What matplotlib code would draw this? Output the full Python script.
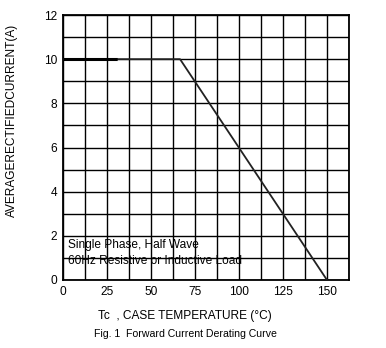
import matplotlib.pyplot as plt
import numpy as np

plt.rcParams['font.family'] = ['Liberation Sans', 'DejaVu Sans']
plt.rcParams['lines.scale_dashes'] = False

# derating curve: flat at rated current, then linear down to zero
temp = [0, 66.5, 150]
current = [10, 10, 0]

x_ticks = [0, 25, 50, 75, 100, 125, 150]
y_ticks = [0, 2, 4, 6, 8, 10, 12]

W, H = 386, 348
fig = plt.figure(figsize=(W / 100, H / 100), dpi=100)
ax = fig.add_axes([63 / W, (H - 280) / H, 286 / W, 265 / H])

ax.set_xlim(0, 162.5)
ax.set_ylim(0, 12)
ax.set_xticks(np.arange(0, 162.6, 12.5), minor=False)
ax.set_yticks(np.arange(0, 12.1, 1))
ax.grid(True, color='black', linewidth=1.0)
ax.tick_params(length=0, labelsize=8.6, pad=4)
ax.set_xticklabels([str(int(v)) if v in x_ticks else '' for v in np.arange(0, 162.6, 12.5)])
ax.set_yticklabels([str(int(v)) if v in y_ticks else '' for v in np.arange(0, 12.1, 1)])
for s in ax.spines.values():
    s.set_linewidth(1.3)

ax.plot(temp, current, color='#222222', linewidth=1.3, zorder=3)
# heavier stroke on the start of the flat part
ax.plot(temp[:2], current[:2], color='black', linewidth=2.2, zorder=3,
        dashes=[39, 1000])

ax.text(3, 1.3, 'Single Phase, Half Wave', fontsize=8.6, va='bottom')
ax.text(3, 0.6, '60Hz Resistive or Inductive Load', fontsize=8.6, va='bottom')

fig.text(12 / W, 1 - 120 / H, 'AVERAGERECTIFIEDCURRENT(A)', rotation=90,
         ha='center', va='center', fontsize=8.6)
fig.text(185 / W, 1 - 316 / H, 'Tc  , CASE TEMPERATURE (\u00b0C)',
         ha='center', va='center', fontsize=8.6)
fig.text(185 / W, 1 - 334 / H, 'Fig. 1  Forward Current Derating Curve',
         ha='center', va='center', fontsize=7.6)

fig.savefig('out.png', dpi=100)
